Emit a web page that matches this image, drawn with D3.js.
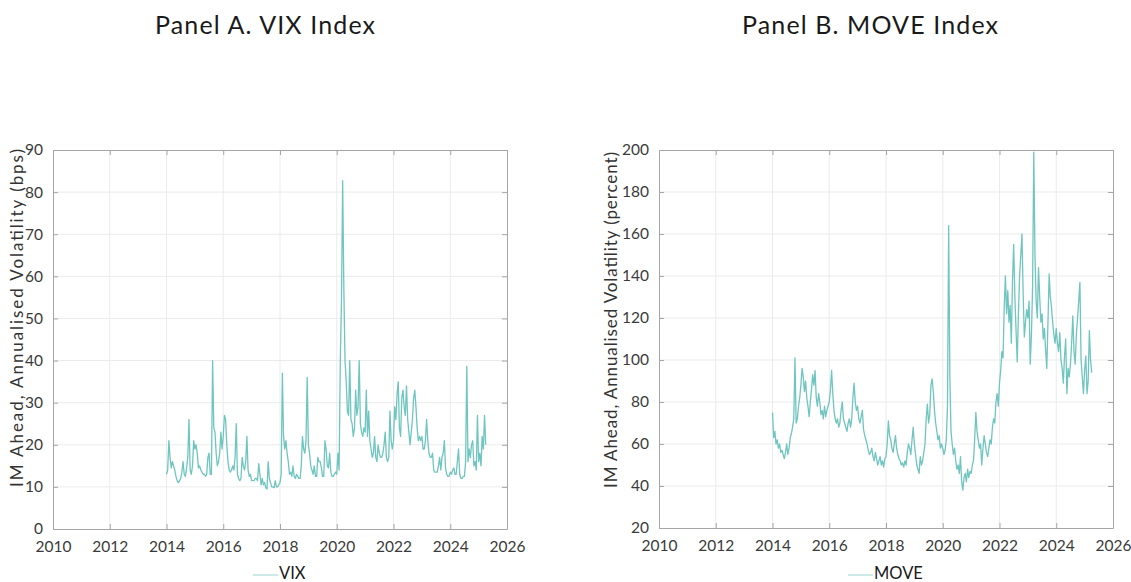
<!DOCTYPE html>
<html>
<head>
<meta charset="utf-8">
<script src="https://cdn.jsdelivr.net/npm/d3@7"></script>
<style>
  html, body { margin: 0; padding: 0; background: #fff; }
  svg { display: block; }
  text { font-family: Lato, "Open Sans", sans-serif; }
</style>
</head>
<body>
<svg id="chart" width="1131" height="582"></svg>
<script>
// ---------- DATA ----------
const startYear = 2014;      // first observation
const stepsPerYear = 24;     // semi-monthly observations

const xTicks = [2010, 2012, 2014, 2016, 2018, 2020, 2022, 2024, 2026];
const vixTicks = [0, 10, 20, 30, 40, 50, 60, 70, 80, 90];
const moveTicks = [20, 40, 60, 80, 100, 120, 140, 160, 180, 200];

const vix = [
  // 2014
  13, 14, 21, 17, 14.5, 16, 15, 14, 12.5, 11.5, 11, 11.5, 12, 13.5, 16, 13, 12.5, 14.5, 17, 26, 14, 13, 15, 21,
  // 2015
  19, 20, 18, 14.5, 15, 14, 13.5, 13, 13, 12.5, 13, 17, 18, 13, 13, 40, 24, 23, 18, 15, 16, 18, 23, 19,
  // 2016
  22, 27, 26, 20, 16, 14, 13.5, 14, 15, 14, 17, 25, 13, 12, 11.5, 12, 17, 15, 14, 16, 22, 14, 12.5, 13,
  // 2017
  11.5, 11.5, 11.5, 12, 12, 11.5, 15.5, 13, 10.5, 12, 10.5, 11, 9.8, 9.5, 16, 12, 11, 10, 10, 9.8, 11.5, 10, 10, 10.5,
  // 2018
  11, 13, 37, 22, 19, 21, 18, 16, 13, 13.5, 12.5, 15, 12.5, 12, 13, 12.5, 12, 12, 15, 22, 19, 18, 21, 36,
  // 2019
  20, 18, 15, 14, 13, 15, 12.5, 12.5, 17, 16, 16, 14.5, 12.5, 12.5, 21, 19, 15, 14.5, 18, 13.5, 12.5, 12.5, 13, 13.5,
  // 2020
  13, 18, 14, 40, 54, 82.7, 57, 40, 35, 28, 27, 40, 26, 25, 22, 24, 33, 27, 29, 40, 25, 23, 22, 24,
  // 2021
  23, 33, 22, 28, 21, 19, 17, 18, 22, 17, 16, 20, 18, 17, 17, 18, 20, 23, 17, 16, 17, 28, 21, 19,
  // 2022
  21, 29, 26, 32, 35, 24, 22, 31, 33, 29, 27, 34, 26, 23, 20, 23, 26, 31, 33, 29, 24, 21, 22, 21,
  // 2023
  22, 19, 19, 21, 26, 21, 18, 17, 17, 18, 14, 13.5, 13.5, 13.5, 15, 17, 14, 17, 18, 21, 14.5, 13, 12.5, 12.5,
  // 2024
  13.5, 13, 14, 14.5, 13, 13, 16, 19, 13, 12, 12, 12.5, 12.5, 16, 38.6, 16, 19, 17, 20, 21, 15, 16, 14, 27,
  // 2025
  16, 18, 15, 22, 19, 27, 20
];

const move = [
  // 2014
  75, 63, 66, 60, 62, 58, 60, 56, 57, 55, 53, 56, 60, 55, 58, 63, 65, 68, 72, 101, 70, 72, 78, 82,
  // 2015
  88, 96, 92, 85, 90, 82, 78, 73, 80, 86, 93, 88, 95, 82, 78, 84, 80, 74, 76, 72, 78, 73, 76, 78,
  // 2016
  80, 86, 95, 84, 76, 72, 70, 72, 68, 70, 76, 80, 72, 70, 68, 66, 70, 72, 68, 72, 82, 89, 80, 76,
  // 2017
  78, 72, 70, 73, 76, 67, 64, 62, 60, 57, 55, 56, 58, 54, 52, 56, 53, 50, 52, 54, 50, 52, 49, 53,
  // 2018
  54, 60, 71, 64, 62, 58, 56, 60, 64, 58, 55, 53, 52, 50, 51, 49, 52, 50, 56, 60, 58, 55, 62, 68,
  // 2019
  60, 55, 50, 48, 46, 54, 50, 52, 56, 60, 72, 79, 70, 74, 88, 91, 85, 76, 70, 66, 62, 64, 58, 60,
  // 2020
  58, 55, 57, 62, 78, 164, 92, 66, 60, 55, 58, 52, 48, 50, 46, 54, 42, 38, 44, 46, 42, 48, 44, 47,
  // 2021
  46, 50, 52, 62, 75, 66, 62, 58, 60, 50, 58, 64, 60, 56, 54, 58, 62, 60, 68, 72, 70, 80, 84, 78,
  // 2022
  89, 95, 104, 101, 125, 140, 122, 133, 118, 126, 108, 138, 155, 130, 114, 99, 122, 140, 150, 160, 132, 111, 118, 124,
  // 2023
  120, 128, 98, 112, 135, 199, 150, 128, 120, 144, 130, 118, 122, 110, 115, 105, 96, 118, 141, 130, 125, 118, 112, 108,
  // 2024
  115, 108, 104, 113, 100, 96, 89, 102, 110, 84, 96, 92, 98, 108, 121, 104, 98, 112, 120, 128, 137, 100, 92, 84,
  // 2025
  95, 102, 84, 90, 114, 100, 94
];

// ---------- DRAW ----------
const svg = d3.select("#chart");
const lineColor = "#6fc5bf";

function drawPanel(o) {
  const x = d3.scaleLinear().domain([2010, 2026]).range([o.left, o.right]);
  const y = d3.scaleLinear().domain(o.yDomain).range([o.bottom, o.top]);
  const g = svg.append("g");

  // title
  g.append("text")
    .attr("x", o.titleX).attr("y", 34)
    .attr("text-anchor", "middle")
    .attr("font-size", 25).attr("font-weight", 400).attr("fill", "#1a1a1a")
    .attr("textLength", o.titleLen).attr("lengthAdjust", "spacing")
    .text(o.title);

  // grid
  g.append("g").selectAll("line").data(xTicks.slice(1, -1)).join("line")
    .attr("x1", d => x(d)).attr("x2", d => x(d))
    .attr("y1", o.top).attr("y2", o.bottom)
    .attr("stroke", "#ebebeb").attr("stroke-width", 1);
  g.append("g").selectAll("line").data(o.yTicks.slice(1, -1)).join("line")
    .attr("x1", o.left).attr("x2", o.right)
    .attr("y1", d => y(d)).attr("y2", d => y(d))
    .attr("stroke", "#ebebeb").attr("stroke-width", 1);

  // axes (inward ticks, MATLAB style box)
  const axStyle = sel => {
    sel.select(".domain").attr("stroke", "#a6a6a6");
    sel.selectAll(".tick line").attr("stroke", "#a6a6a6");
    sel.selectAll(".tick text").attr("fill", "#3a3a3a")
      .attr("font-size", 15.5).attr("font-family", "Lato, 'Open Sans', sans-serif");
  };
  g.append("g").attr("transform", `translate(0,${o.bottom})`)
    .call(d3.axisBottom(x).tickValues(xTicks).tickFormat(d3.format("d"))
      .tickSizeInner(-5).tickSizeOuter(0).tickPadding(12))
    .call(axStyle);
  g.append("g").attr("transform", `translate(0,${o.top})`)
    .call(d3.axisTop(x).tickValues(xTicks).tickFormat("")
      .tickSizeInner(-5).tickSizeOuter(0))
    .call(axStyle);
  g.append("g").attr("transform", `translate(${o.left},0)`)
    .call(d3.axisLeft(y).tickValues(o.yTicks).tickFormat(d3.format("d"))
      .tickSizeInner(-5).tickSizeOuter(0).tickPadding(10))
    .call(axStyle);
  g.append("g").attr("transform", `translate(${o.right},0)`)
    .call(d3.axisRight(y).tickValues(o.yTicks).tickFormat("")
      .tickSizeInner(-5).tickSizeOuter(0))
    .call(axStyle);
  g.selectAll(".domain").attr("fill", "none");

  // y-axis label
  g.append("text")
    .attr("transform", `translate(${o.ylabX},${o.ylabY}) rotate(-90)`)
    .attr("text-anchor", "middle").attr("dominant-baseline", "middle")
    .attr("font-size", 17).attr("fill", "#333")
    .attr("textLength", o.ylabLen).attr("lengthAdjust", "spacing")
    .text(o.ylabel);

  // series line
  const line = d3.line()
    .x((d, i) => x(startYear + i / stepsPerYear))
    .y(d => y(d));
  g.append("path").datum(o.values)
    .attr("d", line)
    .attr("fill", "none")
    .attr("stroke", lineColor).attr("stroke-width", 1.3)
    .attr("stroke-linejoin", "round");

  // legend
  g.append("line")
    .attr("x1", o.legX).attr("x2", o.legX + 25)
    .attr("y1", 575).attr("y2", 575)
    .attr("stroke", "#a9dcd8").attr("stroke-width", 1.2);
  g.append("text")
    .attr("x", o.legX + 26).attr("y", 575)
    .attr("dominant-baseline", "middle")
    .attr("font-size", 16.5).attr("fill", "#1a1a1a")
    .text(o.legend);
}

drawPanel({
  title: "Panel A. VIX Index", titleX: 265, titleLen: 220,
  left: 53, right: 507, top: 150, bottom: 529,
  yDomain: [0, 90], yTicks: vixTicks, values: vix,
  ylabel: "IM Ahead, Annualised Volatility (bps)", ylabX: 19, ylabY: 318, ylabLen: 338,
  legX: 253, legend: "VIX"
});

drawPanel({
  title: "Panel B. MOVE Index", titleX: 870, titleLen: 256,
  left: 659, right: 1113, top: 150, bottom: 528,
  yDomain: [20, 200], yTicks: moveTicks, values: move,
  ylabel: "IM Ahead, Annualised Volatility (percent)", ylabX: 613, ylabY: 320, ylabLen: 336,
  legX: 848, legend: "MOVE"
});
</script>
</body>
</html>
